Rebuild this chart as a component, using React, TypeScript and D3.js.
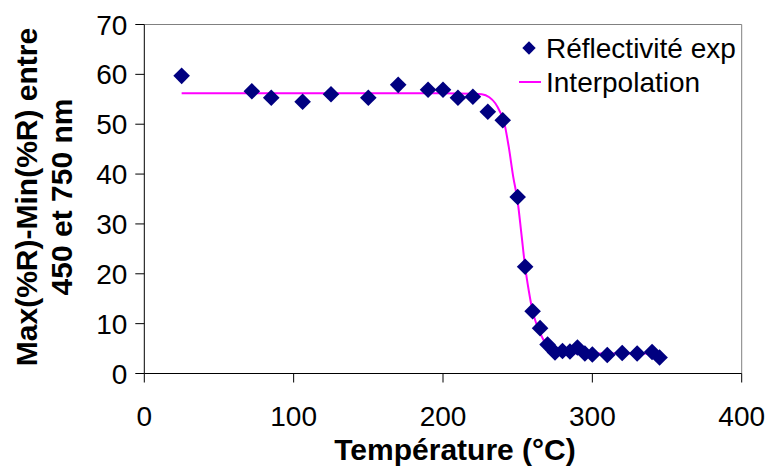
import React from "react";
import * as d3 from "d3";

const W = 769;
const H = 466;

// Experimental reflectivity points (Température °C, Max-Min %R)
const tempExp = [25, 72, 85, 106, 125, 150, 170, 190, 200, 210, 220, 230, 240, 250, 255, 260, 265, 270, 275, 280, 285, 290, 295, 300, 310, 320, 330, 340, 345];
const reflExp = [59.7, 56.6, 55.3, 54.5, 56.0, 55.3, 57.9, 56.9, 56.9, 55.3, 55.5, 52.5, 50.8, 35.4, 21.4, 12.5, 9.1, 5.8, 4.2, 4.5, 4.4, 5.2, 4.0, 3.8, 3.7, 4.1, 4.0, 4.3, 3.2];

// Interpolation curve
const tempFit = [25, 100, 200, 220, 226, 231, 235, 238, 241, 244, 247, 250, 252.5, 255, 257.5, 260, 262.5, 265, 267.5, 270, 275, 280, 290, 300, 346];
const reflFit = [56.2, 56.2, 56.2, 56.1, 56.0, 55.4, 54.2, 52.6, 50.3, 45.5, 39.5, 34.5, 28.0, 21.4, 16.5, 12.5, 10.0, 8.2, 6.6, 5.5, 4.6, 4.2, 4.05, 4.0, 4.0];

const xTicks = [0, 100, 200, 300, 400];
const yTicks = [0, 10, 20, 30, 40, 50, 60, 70];

const legendLabels = ["Réflectivité exp", "Interpolation"];
const xTitle = "Température (°C)";
const yTitleLines = ["Max(%R)-Min(%R) entre", "450 et 750 nm"];

const FONT = "'Liberation Sans', Arial, Helvetica, sans-serif";

export default function App() {
  const left = 144.3, right = 741.7, top = 24.5, bottom = 373.5;
  const x = d3.scaleLinear().domain([0, 400]).range([left, right]);
  const y = d3.scaleLinear().domain([0, 70]).range([bottom, top]);

  const fitData = tempFit.map((t, i) => [t, reflFit[i]] as [number, number]);
  const line = d3
    .line<[number, number]>()
    .x((d) => x(d[0]))
    .y((d) => y(d[1]))
    .curve(d3.curveMonotoneX);

  const diamond = (cx: number, cy: number, r: number) =>
    `M${cx},${cy - r}L${cx + r},${cy}L${cx},${cy + r}L${cx - r},${cy}Z`;

  const tickLen = 9;

  return (
    <svg width={W} height={H} style={{ display: "block", position: "absolute", left: 0, top: 0 }}>
      <rect x={0} y={0} width={W} height={H} fill="#fff" />
      {/* plot frame top/right */}
      <line x1={left} x2={right} y1={top} y2={top} stroke="#808080" strokeWidth={1} />
      <line x1={right} x2={right} y1={top} y2={bottom} stroke="#808080" strokeWidth={1} />
      {/* axes */}
      <line x1={left} x2={left} y1={top} y2={bottom} stroke="#000" strokeWidth={1} />
      <line x1={left} x2={right} y1={bottom} y2={bottom} stroke="#000" strokeWidth={1} />
      {yTicks.map((t) => (
        <g key={"y" + t}>
          <line x1={left - tickLen} x2={left} y1={y(t)} y2={y(t)} stroke="#000" />
          <text x={left - 17} y={y(t) + 10} textAnchor="end" fontFamily={FONT} fontSize={28} fill="#000">
            {t}
          </text>
        </g>
      ))}
      {xTicks.map((t) => (
        <g key={"x" + t}>
          <line x1={x(t)} x2={x(t)} y1={bottom} y2={bottom + tickLen} stroke="#000" />
          <text x={x(t)} y={426} textAnchor="middle" fontFamily={FONT} fontSize={28} fill="#000">
            {t}
          </text>
        </g>
      ))}
      {/* curve */}
      <path d={line(fitData) || ""} fill="none" stroke="#FF00FF" strokeWidth={2} />
      {/* points */}
      {tempExp.map((t, i) => (
        <path key={"p" + i} d={diamond(x(t), y(reflExp[i]), 8.3)} fill="#000080" />
      ))}
      {/* titles */}
      <text x={455} y={460} textAnchor="middle" fontFamily={FONT} fontSize={30} fontWeight="bold" fill="#000">
        {xTitle}
      </text>
      <g transform="translate(36.5,197) rotate(-90)">
        <text x={0} y={0} textAnchor="middle" fontFamily={FONT} fontSize={30} fontWeight="bold" fill="#000">
          {yTitleLines[0]}
        </text>
      </g>
      <g transform="translate(71.5,197) rotate(-90)">
        <text x={0} y={0} textAnchor="middle" fontFamily={FONT} fontSize={30} fontWeight="bold" fill="#000">
          {yTitleLines[1]}
        </text>
      </g>
      {/* legend */}
      <path d={diamond(529, 48, 6.7)} fill="#000080" />
      <text x={546} y={57.5} fontFamily={FONT} fontSize={28} fill="#000">
        {legendLabels[0]}
      </text>
      <line x1={519} x2={541} y1={82} y2={82} stroke="#FF00FF" strokeWidth={2} />
      <text x={546} y={92} fontFamily={FONT} fontSize={28} fill="#000">
        {legendLabels[1]}
      </text>
    </svg>
  );
}
